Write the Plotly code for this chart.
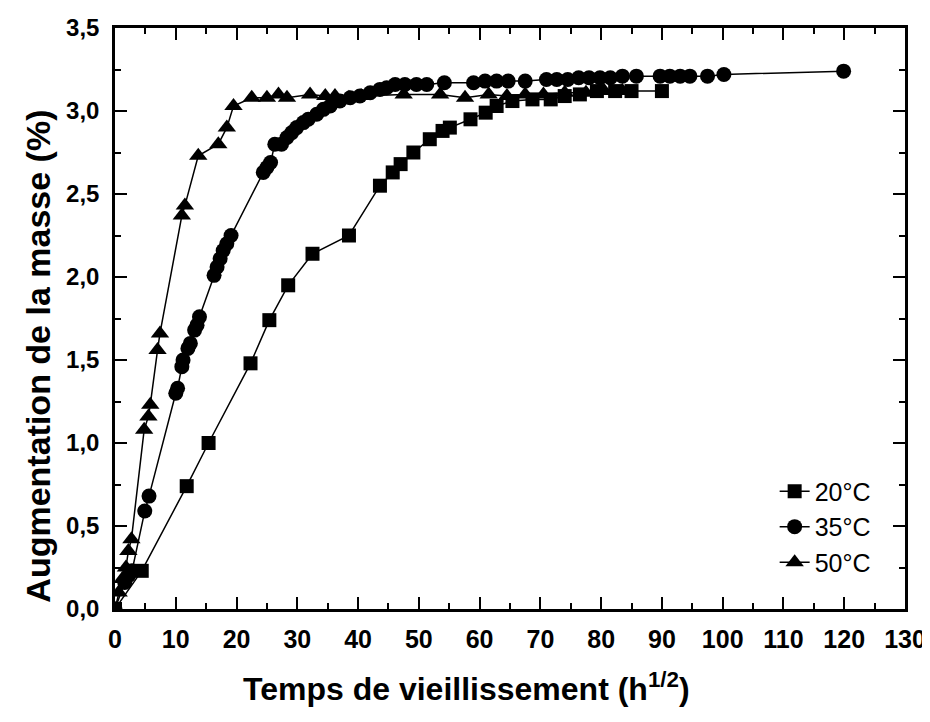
import plotly.graph_objects as go

# ---- data ----
x_20 = [0, 4.4, 11.8, 15.4, 22.3, 25.4, 28.5, 32.5, 38.5, 43.6, 45.7, 47.0, 49.1, 51.8,
        53.9, 55.1, 58.5, 61.0, 62.8, 65.4, 68.7, 71.7, 74.0, 76.5, 79.3, 82.3, 85.0, 90.0]
y_20 = [0, 0.23, 0.74, 1.00, 1.48, 1.74, 1.95, 2.14, 2.25, 2.55, 2.63, 2.68, 2.75, 2.83,
        2.88, 2.90, 2.95, 2.99, 3.03, 3.06, 3.07, 3.07, 3.09, 3.10, 3.12, 3.12, 3.12, 3.12]

x_35 = [0, 1.6, 2.2, 2.8, 4.9, 5.6, 10.0, 10.3, 11.0, 11.2, 12.0, 12.4, 13.1, 13.5, 13.9,
        16.3, 16.8, 17.3, 17.8, 18.4, 19.1, 24.4, 25.0, 25.6, 26.3, 27.4, 28.3, 29.1, 29.9,
        31.0, 31.8, 33.2, 34.3, 35.4, 37.0, 38.7, 40.3, 42.0, 43.6, 44.7, 46.1, 47.7, 49.6,
        51.3, 54.2, 59.0, 60.9, 62.8, 64.7, 67.5, 71.0, 72.7, 74.5, 76.3, 78.0, 79.8, 81.5,
        83.5, 85.8, 89.7, 91.3, 93.0, 94.6, 97.5, 100.2, 119.9]
y_35 = [0, 0.16, 0.20, 0.23, 0.59, 0.68, 1.30, 1.33, 1.46, 1.50, 1.57, 1.60, 1.68, 1.71, 1.76,
        2.01, 2.06, 2.11, 2.16, 2.20, 2.25, 2.63, 2.66, 2.69, 2.80, 2.80, 2.84, 2.87, 2.90,
        2.93, 2.95, 2.98, 3.01, 3.03, 3.06, 3.08, 3.09, 3.11, 3.13, 3.14, 3.16, 3.16, 3.16,
        3.16, 3.17, 3.17, 3.18, 3.18, 3.18, 3.18, 3.19, 3.19, 3.19, 3.20, 3.20, 3.20, 3.20,
        3.21, 3.21, 3.21, 3.21, 3.21, 3.21, 3.21, 3.22, 3.24]

x_50 = [0, 0.6, 1.2, 1.8, 2.2, 2.7, 4.8, 5.5, 5.8, 7.0, 7.4, 11.0, 11.5, 13.7, 17.0, 18.4,
        19.5, 22.5, 25.0, 26.9, 28.3, 32.1, 34.6, 36.2, 38.5, 40.5, 47.5, 53.5, 57.6, 61.5,
        64.5, 67.5, 70.5, 74.0, 77.5, 80.5, 83.5]
y_50 = [0, 0.10, 0.18, 0.25, 0.35, 0.42, 1.08, 1.16, 1.23, 1.56, 1.66, 2.37, 2.43, 2.73, 2.80, 2.90,
        3.03, 3.08, 3.08, 3.10, 3.08, 3.10, 3.09, 3.09, 3.08, 3.09, 3.10, 3.10, 3.08, 3.10,
        3.09, 3.10, 3.10, 3.11, 3.11, 3.12, 3.12]

series = [
    ("20°C", x_20, y_20, "square", 14),
    ("35°C", x_35, y_35, "circle", 15),
    ("50°C", x_50, y_50, "triangle-up", 16),
]

x_ticks = list(range(0, 131, 10))
y_ticks = [0, 0.5, 1.0, 1.5, 2.0, 2.5, 3.0, 3.5]

x_title = "Temps de vieillissement (h<sup>1/2</sup>)"
y_title = "Augmentation de la masse (%)"

SANS = "Liberation Sans, Arial, sans-serif"

fig = go.Figure()
for name, xs, ys, sym, sz in series:
    fig.add_trace(go.Scatter(
        x=xs, y=ys, name=name, mode="lines+markers",
        line=dict(color="black", width=1.5),
        marker=dict(symbol=sym, size=sz, color="black"),
    ))

axis_common = dict(
    showline=True, linecolor="black", linewidth=2.5, mirror="allticks",
    ticks="inside", ticklen=12, tickwidth=2, tickcolor="black",
    showgrid=False, zeroline=False, automargin=False,
)

fig.update_xaxes(
    range=[0, 130], tickvals=x_ticks, ticktext=[str(v) for v in x_ticks],
    minor=dict(ticks="inside", ticklen=6, tickwidth=2, tickcolor="black", dtick=5, showgrid=False),
    tickfont=dict(family=SANS, size=25, color="black", weight="bold"),
    ticklabelstandoff=6,
    **axis_common,
)
fig.update_yaxes(
    range=[0, 3.5], tickvals=y_ticks, tickformat=".1f",
    minor=dict(ticks="inside", ticklen=6, tickwidth=2, tickcolor="black", dtick=0.25, showgrid=False),
    tickfont=dict(family=SANS, size=24, color="black", weight="bold"),
    ticklabelstandoff=8,
    **axis_common,
)

fig.add_annotation(
    text=x_title, xref="paper", yref="paper", x=0.445, y=-0.135,
    xanchor="center", yanchor="middle",
    showarrow=False, font=dict(family=SANS, size=32, color="black", weight="bold"),
)
fig.add_annotation(
    text=y_title, xref="paper", yref="paper", x=-0.097, y=0.435, textangle=-90,
    xanchor="center", yanchor="middle",
    showarrow=False, font=dict(family=SANS, size=34, color="black", weight="bold"),
)

# page body has an 8px margin, so the figure is 8px smaller than the window
fig.update_layout(
    width=922, height=714,
    margin=dict(l=107, r=25, t=20, b=113),
    paper_bgcolor="white", plot_bgcolor="white",
    separators=", ",
    showlegend=True,
    legend=dict(x=0.835, y=0.242, xanchor="left", yanchor="top",
                bgcolor="rgba(0,0,0,0)", font=dict(family=SANS, size=25, color="black"),
                tracegroupgap=0),
)

fig.write_html("out.html")
